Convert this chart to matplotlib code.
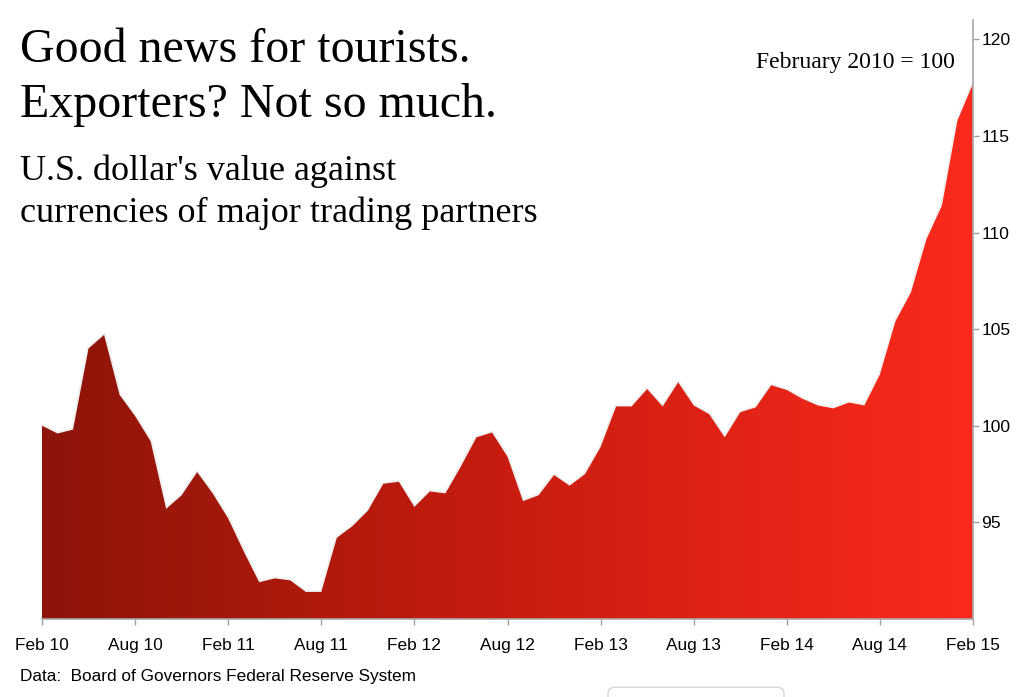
import numpy as np
import matplotlib.pyplot as plt
from matplotlib.colors import LinearSegmentedColormap
from matplotlib.patches import Polygon, FancyBboxPatch

# monthly index, Feb 2010 = 100 (Feb 10 .. Feb 15)
values = [100.0, 99.6, 99.8, 104.0, 104.7, 101.6, 100.5, 99.2, 95.7, 96.4, 97.6, 96.5,
          95.2, 93.5, 91.9, 92.1, 92.0, 91.4, 91.4, 94.2, 94.8, 95.6, 97.0, 97.1,
          95.8, 96.6, 96.5, 97.9, 99.4, 99.65, 98.4, 96.1, 96.4, 97.45, 96.9, 97.5,
          98.9, 101.0, 101.0, 101.9, 101.0, 102.25, 101.05, 100.6, 99.4, 100.7, 100.95, 102.1,
          101.85, 101.4, 101.05, 100.9, 101.2, 101.05, 102.65, 105.4, 106.9, 109.65, 111.4, 115.8,
          117.7]
x_labels = ['Feb 10', 'Aug 10', 'Feb 11', 'Aug 11', 'Feb 12', 'Aug 12',
            'Feb 13', 'Aug 13', 'Feb 14', 'Aug 14', 'Feb 15']
y_ticks = [95, 100, 105, 110, 115, 120]

months = np.arange(len(values))
ymin, ymax = 90, 121

fig = plt.figure(figsize=(10.24, 6.97), dpi=100)
ax = fig.add_axes([42 / 1024, 1 - 619 / 697, (973 - 42) / 1024, (619 - 20) / 697])

# faint halo along the top edge
ax.plot(months, values, color='#efefef', lw=2.5, zorder=1, solid_joinstyle='round')

cmap = LinearSegmentedColormap.from_list('reds', ['#8c1409', '#c81d10', '#fb2a1c'])
grad = np.linspace(0, 1, 256).reshape(1, -1)
im = ax.imshow(grad, cmap=cmap, extent=[0, 60, ymin, ymax], aspect='auto',
               origin='lower', zorder=2)
poly = Polygon(np.column_stack([np.r_[months, 60, 0], np.r_[values, ymin, ymin]]),
               closed=True, facecolor='none', edgecolor='none')
ax.add_patch(poly)
im.set_clip_path(poly)

ax.set_xlim(0, 60)
ax.set_ylim(ymin, ymax)

ax.set_xticks(range(0, 61, 6))
ax.set_xticklabels(x_labels, family='Liberation Sans', fontsize=12.4)
ax.yaxis.tick_right()
ax.set_yticks(y_ticks)
ax.set_yticklabels([str(t) for t in y_ticks], family='Liberation Sans', fontsize=12.6)
ax.tick_params(axis='x', length=4.5, width=1, color='#a0a0a0', pad=9)
ax.tick_params(axis='y', length=4.5, width=1, color='#a0a0a0', pad=1.5)

for s in ['top', 'left']:
    ax.spines[s].set_visible(False)
for s in ['right', 'bottom']:
    ax.spines[s].set_color('#a8a8a8')
    ax.spines[s].set_linewidth(1.2)
    ax.spines[s].set_zorder(3)

fig.text(20 / 1024, 1 - 62 / 697, 'Good news for tourists.', family='Liberation Serif',
         fontsize=34.5, va='baseline', ha='left')
fig.text(20 / 1024, 1 - 117 / 697, 'Exporters? Not so much.', family='Liberation Serif',
         fontsize=34.5, va='baseline', ha='left')
fig.text(20 / 1024, 1 - 180 / 697, "U.S. dollar's value against", family='Liberation Serif',
         fontsize=26, va='baseline', ha='left')
fig.text(20 / 1024, 1 - 222 / 697, 'currencies of major trading partners',
         family='Liberation Serif', fontsize=26, va='baseline', ha='left')
fig.text(955 / 1024, 1 - 68 / 697, 'February 2010 = 100', family='Liberation Serif',
         fontsize=17, va='baseline', ha='right')
fig.text(20 / 1024, 1 - 681 / 697, 'Data:  Board of Governors Federal Reserve System',
         family='Liberation Sans', fontsize=12.4, va='baseline', ha='left')

# partially visible rounded box at the bottom edge of the screenshot
box = FancyBboxPatch((608 / 1024, -0.02), 176 / 1024, 0.034,
                     boxstyle='round,pad=0,rounding_size=0.008',
                     transform=fig.transFigure, facecolor='white',
                     edgecolor='#d6d6d6', lw=1)
fig.patches.append(box)

fig.savefig('out.png', dpi=100)
